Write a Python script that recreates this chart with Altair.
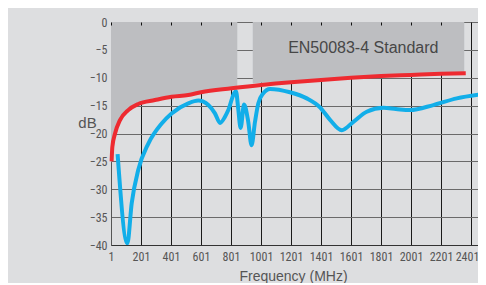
import altair as alt
import pandas as pd

# Blue measured curve
blue_mhz = [45, 110, 139, 183, 250, 339, 405, 516, 583, 650, 694, 728, 761, 783, 823, 834,
            849, 865, 888, 916, 938, 961, 983, 1016, 1061, 1194, 1306, 1394, 1460, 1539,
            1617, 1706, 1817, 1900, 1994, 2150, 2306, 2461]
blue_db = [-23.7, -39.7, -32.5, -26.5, -21.8, -18.2, -16.4, -14.6, -14.1, -14.9, -16.4, -18.1,
           -17.0, -15.8, -12.7, -12.4, -15.5, -19.0, -14.8, -17.9, -22.1, -17.9, -14.6, -12.8,
           -12.0, -12.6, -13.7, -15.3, -17.5, -19.4, -17.9, -16.1, -15.4, -15.6, -15.8, -14.9,
           -13.7, -13.0]

# Red standard limit curve
red_mhz = [5, 10, 28, 61, 116, 183, 294, 405, 516, 601, 805, 1001, 1201, 1401, 1601, 1801,
           2001, 2201, 2366]
red_db = [-25.0, -22.4, -20.0, -17.6, -15.8, -14.7, -14.0, -13.4, -13.1, -12.6, -11.9, -11.3,
          -10.8, -10.4, -10.0, -9.7, -9.5, -9.3, -9.2]

# Shaded "standard" region (two segments)
shade_seg = ["a"] * 13 + ["b"] * 4
shade_mhz = [1, 5, 10, 28, 61, 116, 183, 294, 405, 516, 601, 805, 843,
             946, 1400, 1800, 2356]
shade_db = [-25.2, -25.0, -22.4, -20.0, -17.6, -15.8, -14.7, -14.0, -13.4, -13.1, -12.6, -11.9, -11.8,
            -11.0, -10.3, -9.6, -9.1]

label_text = ["EN50083-4 Standard"]
label_mhz = [1683]
label_db = [-4.7]

x_ticks = [1, 201, 401, 601, 801, 1001, 1201, 1401, 1601, 1801, 2001, 2201, 2401]
y_ticks = [0, -5, -10, -15, -20, -25, -30, -35, -40]

blue_df = pd.DataFrame({"f": blue_mhz, "db": blue_db})
red_df = pd.DataFrame({"f": red_mhz, "db": red_db})
shade_df = pd.DataFrame({"seg": shade_seg, "f": shade_mhz, "db": shade_db})
label_df = pd.DataFrame({"t": label_text, "f": label_mhz, "db": label_db})

FONT = "Roboto Condensed, Liberation Sans Narrow, Liberation Sans, sans-serif"

PLOT_W = 367
xscale = alt.Scale(domain=[1, 1 + PLOT_W / 30 * 200], nice=False, zero=False)
yscale = alt.Scale(domain=[-40, 0], nice=False, zero=False)

xaxis = alt.Axis(values=x_ticks, format="d", labelOverlap=False, title="Frequency (MHz)",
                 grid=True, gridColor="#1a1a1a",
                 gridWidth=1, ticks=False, labelPadding=6, labelFont=FONT, labelFontSize=12,
                 labelOffset={"expr": "datum.value > 2300 ? -4 : 0"},
                 labelColor="#555555", domainColor="#333333", titleFont="Liberation Sans",
                 titleFontSize=14, titleFontWeight="normal", titleColor="#555555",
                 titleX=182, titleY=31, titleBaseline="middle", labelFlush=False)
yaxis = alt.Axis(values=y_ticks, format="d", labelOverlap=False, title="dB", grid=True,
                 gridColor="#6a6a6a", gridWidth=1,
                 ticks=False, labelPadding=4, labelFont=FONT, labelFontSize=12,
                 labelColor="#555555", domainColor="#555555", titleFont="Liberation Sans",
                 titleFontSize=15, titleFontWeight="normal", titleColor="#555555",
                 titleAngle=0, titleX=-24, titleY=100, titleAlign="center", titleBaseline="middle")

shade = alt.Chart(shade_df).mark_area(color="#bdbec1", opacity=1).encode(
    x=alt.X("f:Q", scale=xscale, axis=xaxis),
    y=alt.Y("db:Q", scale=yscale, axis=yaxis),
    y2=alt.datum(0),
    detail="seg:N",
)

blue = alt.Chart(blue_df).mark_line(color="#12aee9", strokeWidth=4, interpolate="monotone",
                                    clip=True).encode(
    x=alt.X("f:Q", scale=xscale,
            axis=alt.Axis(orient="top", values=x_ticks, labels=False, ticks=True, tickSize=3,
                          tickColor="#111111", domain=False, grid=False, title=None,
                          offset=-3, zindex=1)),
    y=alt.Y("db:Q", scale=yscale, axis=yaxis),
)

red = alt.Chart(red_df).mark_line(color="#ee2a30", strokeWidth=4, interpolate="monotone").encode(
    x=alt.X("f:Q", scale=xscale, axis=None),
    y=alt.Y("db:Q", scale=yscale, axis=yaxis),
)

text = alt.Chart(label_df).mark_text(font="Liberation Sans", fontSize=16, color="#474747").encode(
    x=alt.X("f:Q", scale=xscale, axis=None),
    y=alt.Y("db:Q", scale=yscale, axis=yaxis),
    text="t:N",
)

chart = alt.layer(shade, blue, red, text).resolve_axis(x="independent").properties(
    width=PLOT_W, height=223,
    autosize=alt.AutoSizeParams(type="none"),
    padding={"left": 103, "top": 14, "right": 0, "bottom": 38},
    background="#dddee0",
).configure_view(stroke=None)

chart.save("out.html", embed_options={"renderer": "svg", "actions": False})
